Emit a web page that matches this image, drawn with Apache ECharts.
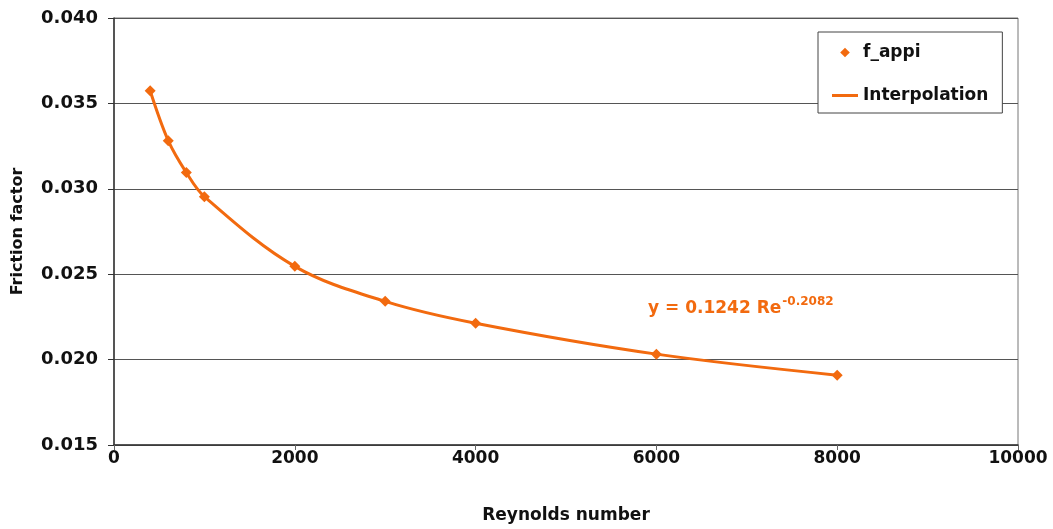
<!DOCTYPE html>
<html>
<head>
<meta charset="utf-8">
<script src="https://cdn.jsdelivr.net/npm/echarts@6/dist/echarts.min.js"></script>
<style>
  html, body { margin: 0; padding: 0; background: #fff; }
  #chart { width: 1053px; height: 529px; }
</style>
</head>
<body>
<div id="chart"></div>
<script>
// Reynolds numbers and measured friction factor (f_appi)
const reynolds = [400, 600, 800, 1000, 2000, 3000, 4000, 6000, 8000]
const frictionFactor = [0.03574, 0.03282, 0.03095, 0.02954, 0.02546, 0.02341, 0.02213, 0.02032, 0.01909]
const xTicks = [0, 2000, 4000, 6000, 8000, 10000]
const yTicks = [0.015, 0.020, 0.025, 0.030, 0.035, 0.040]
const fitLabel = 'y = 0.1242 Re'
const fitExponent = '-0.2082'

const ORANGE = '#f26a0f'
const FONT = 'DejaVu Sans'

const points = reynolds.map((re, i) => [re, frictionFactor[i]])

const chart = echarts.init(document.getElementById('chart'))

const option = {
  backgroundColor: '#fff',
  animation: false,
  textStyle: { fontFamily: FONT },
  grid: {
    left: 114,
    right: 35,
    top: 18,
    bottom: 83,
    show: true,
    borderColor: '#777',
    borderWidth: 1,
    backgroundColor: '#fff'
  },
  legend: {
    orient: 'vertical',
    left: 818,
    top: 32,
    padding: [12, 14, 9, 14],
    itemGap: 26,
    itemWidth: 26,
    itemHeight: 12,
    symbolKeepAspect: true,
    borderColor: '#444',
    borderWidth: 1,
    backgroundColor: '#fff',
    textStyle: { fontFamily: FONT, fontWeight: 'bold', fontSize: 17, color: '#111' },
    data: [
      'f_appi',
      { name: 'Interpolation', icon: 'path://M0,0 L26,0 L26,3 L0,3 Z', itemStyle: { color: ORANGE } }
    ]
  },
  xAxis: {
    type: 'value',
    min: xTicks[0],
    max: xTicks[xTicks.length - 1],
    interval: 2000,
    name: 'Reynolds number',
    nameLocation: 'middle',
    nameGap: 62,
    nameTextStyle: { fontFamily: FONT, fontWeight: 'bold', fontSize: 17, color: '#111' },
    axisLine: { show: true, lineStyle: { color: '#333', width: 1.5 } },
    axisTick: { show: true, length: 5, lineStyle: { color: '#666' } },
    axisLabel: {
      fontFamily: FONT,
      fontWeight: 'bold',
      fontSize: 17,
      color: '#111',
      margin: 5,
      formatter: (value) => String(value)
    },
    splitLine: { show: false }
  },
  yAxis: {
    type: 'value',
    min: yTicks[0],
    max: yTicks[yTicks.length - 1],
    interval: 0.005,
    name: 'Friction factor',
    nameLocation: 'middle',
    nameGap: 88,
    nameTextStyle: { fontFamily: FONT, fontWeight: 'bold', fontSize: 16, color: '#111' },
    axisLine: { show: true, lineStyle: { color: '#333', width: 1.5 } },
    axisTick: { show: true, length: 6, lineStyle: { color: '#333' } },
    axisLabel: {
      fontFamily: FONT,
      fontWeight: 'bold',
      fontSize: 18,
      color: '#111',
      margin: 16,
      formatter: (value) => Number(value).toFixed(3)
    },
    splitLine: { show: true, lineStyle: { color: '#555', width: 1.2 } }
  },
  series: [
    {
      name: 'f_appi',
      type: 'line',
      data: points,
      symbol: 'diamond',
      symbolSize: 11,
      lineStyle: { opacity: 0, width: 0 },
      itemStyle: { color: ORANGE },
      z: 4
    },
    {
      name: 'Interpolation',
      type: 'line',
      data: points,
      smooth: 0.35,
      symbol: 'none',
      lineStyle: { color: ORANGE, width: 3 },
      itemStyle: { color: ORANGE },
      z: 3
    }
  ],
  graphic: [
    {
      type: 'text',
      left: 648,
      top: 296,
      style: {
        text: `{a|${fitLabel}}{b|${fitExponent}}`,
        rich: {
          a: { fontFamily: FONT, fontWeight: 'bold', fontSize: 17, fill: ORANGE, color: ORANGE },
          b: { fontFamily: FONT, fontWeight: 'bold', fontSize: 12, fill: ORANGE, color: ORANGE, padding: [0, 0, 13, 1] }
        }
      }
    }
  ]
}

chart.setOption(option)
</script>
</body>
</html>
